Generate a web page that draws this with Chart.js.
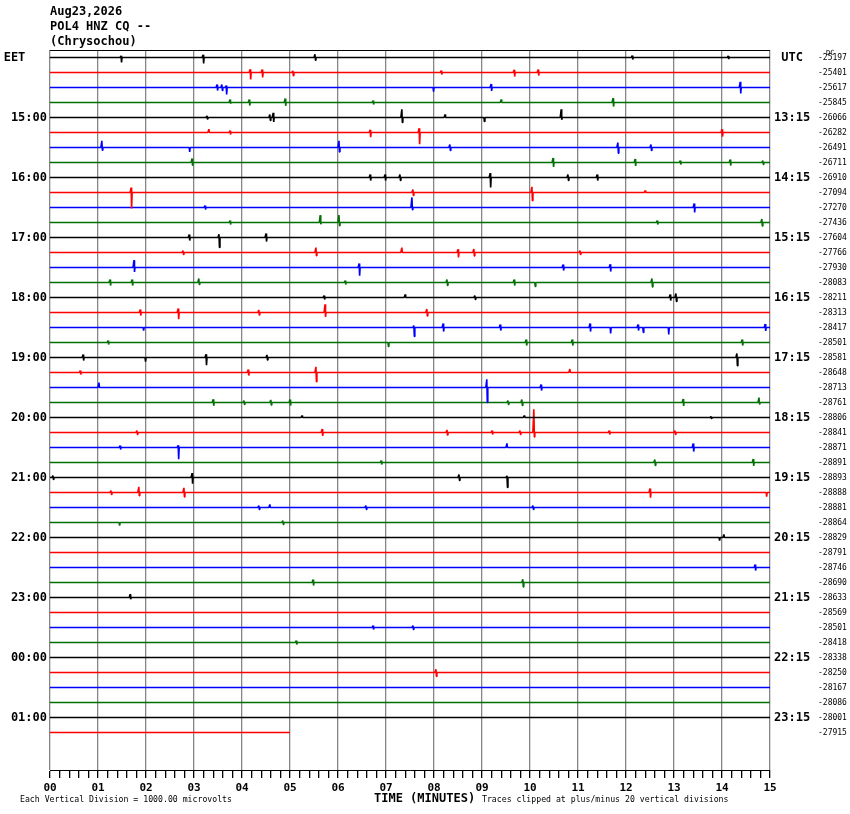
<!DOCTYPE html>
<html><head><meta charset="utf-8">
<script src="https://cdn.jsdelivr.net/npm/chart.js@4.4.1/dist/chart.umd.min.js"></script>
<style>html,body{margin:0;padding:0;background:#fff}canvas{display:block}</style>
</head><body>
<canvas id="c" width="850" height="814" style="width:850px;height:814px"></canvas>
<script>
// ---------- data ----------
const headerLines = ['Aug23,2026', 'POL4 HNZ CQ --', '(Chrysochou)'];
const minuteLabels = ['00','01','02','03','04','05','06','07','08','09','10','11','12','13','14','15'];
// one label every 4 traces (rows 0,4,...,44)
const localHourLabels = ['EET   ','15:00','16:00','17:00','18:00','19:00','20:00','21:00','22:00','23:00','00:00','01:00'];
const utcHourLabels = [' UTC','13:15','14:15','15:15','16:15','17:15','18:15','19:15','20:15','21:15','22:15','23:15'];
// DC offset of each trace
const dcOffsets = [-25197,-25401,-25617,-25845,-26066,-26282,-26491,-26711,-26910,-27094,-27270,-27436,
  -27604,-27766,-27930,-28083,-28211,-28313,-28417,-28501,-28581,-28648,-28713,-28761,
  -28806,-28841,-28871,-28891,-28893,-28888,-28881,-28864,-28829,-28791,-28746,-28690,
  -28633,-28569,-28501,-28418,-28338,-28250,-28167,-28086,-28001,-27915];
const traceColors = ['#000000', '#ff0000', '#0000ff', '#007000'];
const lastTraceEndMinute = 5.0;
// notable wiggles per trace: [minute, upward deflection, downward deflection] (in trace spacings)
const traceEvents = [
  [[1.48,0.11,0.33],[3.19,0.18,0.40],[5.52,0.22,0.18],[12.13,0.13,0.13],[14.13,0.1,0.1]],
  [[4.17,0.22,0.47],[4.42,0.2,0.33],[5.06,0.11,0.22],[8.15,0.13,0.13],[9.67,0.18,0.27],[10.17,0.2,0.2]],
  [[3.48,0.2,0.2],[3.58,0.2,0.2],[3.67,0.13,0.47],[7.98,0,0.27],[9.19,0.23,0.23],[14.38,0.38,0.4]],
  [[3.75,0.2,0.07],[4.15,0.2,0.2],[4.9,0.27,0.22],[6.73,0.13,0.13],[9.4,0.2,0],[11.73,0.29,0.27]],
  [[3.27,0.1,0.1],[4.58,0.2,0.2],[4.65,0.31,0.29],[7.33,0.55,0.33],[8.23,0.2,0],[9.04,0,0.27],[10.65,0.55,0.15]],
  [[3.31,0.22,0],[3.75,0.13,0.13],[6.67,0.18,0.31],[7.69,0.29,0.78],[14.0,0.22,0.27]],
  [[1.08,0.45,0.18],[2.9,0,0.29],[6.02,0.45,0.29],[8.33,0.2,0.2],[11.83,0.33,0.38],[12.52,0.2,0.2]],
  [[2.96,0.27,0.22],[10.48,0.3,0.3],[12.19,0.23,0.23],[13.13,0.13,0.13],[14.17,0.2,0.2],[14.85,0.13,0.13]],
  [[6.67,0.2,0.2],[6.98,0.2,0.2],[7.29,0.2,0.2],[9.17,0.29,0.67],[10.79,0.2,0.2],[11.4,0.2,0.2]],
  [[1.69,0.33,1.07],[7.56,0.2,0.2],[10.04,0.38,0.55],[12.4,0.13,0]],
  [[3.23,0.13,0.13],[7.54,0.67,0.15],[13.42,0.27,0.33]],
  [[3.75,0.13,0.13],[5.63,0.49,0.11],[6.02,0.49,0.22],[12.65,0.13,0.13],[14.83,0.23,0.23]],
  [[2.9,0.2,0.2],[3.52,0.22,0.67],[4.5,0.27,0.27]],
  [[2.77,0.13,0.13],[5.54,0.33,0.22],[7.33,0.33,0],[8.5,0.22,0.33],[8.83,0.23,0.23],[11.04,0.13,0.13]],
  [[1.75,0.49,0.29],[6.44,0.27,0.55],[10.69,0.2,0.2],[11.67,0.22,0.27]],
  [[1.25,0.2,0.2],[1.71,0.2,0.2],[3.1,0.27,0.13],[6.15,0.13,0.13],[8.27,0.2,0.2],[9.67,0.2,0.2],[10.1,0,0.27],[12.54,0.27,0.29]],
  [[5.71,0.13,0.13],[7.4,0.2,0],[8.85,0.13,0.13],[12.92,0.2,0.2],[13.04,0.27,0.27]],
  [[1.88,0.2,0.2],[2.67,0.27,0.45],[4.35,0.17,0.17],[5.73,0.55,0.29],[7.85,0.23,0.23]],
  [[1.94,0,0.2],[7.58,0.13,0.6],[8.19,0.27,0.27],[9.38,0.2,0.2],[11.25,0.27,0.27],[11.67,0,0.4],[12.25,0.2,0.2],[12.35,0,0.33],[12.88,0,0.47],[14.9,0.23,0.23]],
  [[1.21,0.13,0.13],[7.04,0,0.27],[9.92,0.2,0.2],[10.88,0.2,0.2],[14.42,0.2,0.2]],
  [[0.69,0.2,0.2],[1.98,0,0.27],[3.25,0.22,0.51],[4.52,0.17,0.17],[14.31,0.27,0.55]],
  [[0.63,0.13,0.13],[4.13,0.2,0.2],[5.54,0.38,0.62],[10.83,0.23,0]],
  [[1.02,0.33,0],[9.1,0.55,1.0],[10.23,0.2,0.2]],
  [[3.4,0.22,0.22],[4.04,0.13,0.13],[4.6,0.17,0.17],[5.0,0.2,0.2],[9.54,0.13,0.13],[9.83,0.2,0.2],[13.19,0.23,0.23],[14.77,0.33,0.1]],
  [[5.25,0.13,0],[9.88,0.13,0],[13.77,0.07,0.07]],
  [[1.81,0.13,0.13],[5.67,0.23,0.23],[8.27,0.17,0.17],[9.21,0.13,0.13],[9.79,0.13,0.13],[10.08,1.55,0.29],[11.65,0.13,0.13],[13.02,0.13,0.13]],
  [[1.46,0.13,0.13],[2.67,0.15,0.78],[9.52,0.27,0],[13.4,0.27,0.27]],
  [[6.9,0.13,0.13],[12.6,0.2,0.2],[14.65,0.23,0.23]],
  [[0.06,0.13,0.13],[2.96,0.29,0.42],[8.52,0.2,0.2],[9.52,0.11,0.67]],
  [[1.27,0.13,0.13],[1.85,0.38,0.22],[2.79,0.31,0.29],[12.5,0.27,0.35],[14.92,0,0.27]],
  [[4.35,0.13,0.13],[4.58,0.2,0],[6.58,0.13,0.13],[10.06,0.13,0.13]],
  [[1.44,0,0.2],[4.85,0.13,0.13]],
  [[13.94,0,0.2],[14.04,0.2,0]],
  [],
  [[14.69,0.2,0.2]],
  [[5.48,0.2,0.2],[9.85,0.22,0.29]],
  [[1.67,0.22,0.11]],
  [],
  [[6.73,0.13,0.13],[7.56,0.13,0.13]],
  [[5.13,0.13,0.13]],
  [],
  [[8.04,0.22,0.27]],
  [],
  [],
  [],
  []
];

// ---------- build datasets ----------
const SPIKE_W = 1 / 48; // minutes, spike half width
const datasets = traceEvents.map((evs, row) => {
  const end = row === traceEvents.length - 1 ? lastTraceEndMinute : 15;
  const pts = [{x: 0, y: row}];
  evs.slice().sort((a, b) => a[0] - b[0]).forEach(([t, up, down]) => {
    if (t > end) return;
    pts.push({x: t - SPIKE_W, y: row});
    pts.push({x: t, y: row - up});
    pts.push({x: t + SPIKE_W / 2, y: row + down});
    pts.push({x: t + SPIKE_W, y: row});
  });
  pts.push({x: end, y: row});
  return {
    data: pts,
    borderColor: traceColors[row % 4],
    borderWidth: 1.6,
    pointRadius: 0,
    showLine: true,
    tension: 0,
    borderJoinStyle: 'bevel',
    yAxisID: 'y'
  };
});

const isWhole = v => Math.abs(v - Math.round(v)) < 1e-6;
const mono = 'DejaVu Sans Mono';

const textPlugin = {
  id: 'texts',
  afterDraw(chart) {
    const ctx = chart.ctx, a = chart.chartArea;
    ctx.save();
    // top frame line
    ctx.strokeStyle = '#000'; ctx.lineWidth = 1;
    ctx.beginPath(); ctx.moveTo(a.left, a.top + 0.5); ctx.lineTo(a.right, a.top + 0.5); ctx.stroke();
    ctx.fillStyle = '#000';
    ctx.textBaseline = 'middle'; ctx.textAlign = 'left';
    ctx.font = 'bold 12px "' + mono + '"';
    headerLines.forEach((s, i) => ctx.fillText(s, 50, 12 + i * 15));
    ctx.fillText('TIME (MINUTES)', 374, 799);
    ctx.font = '8.2px "' + mono + '"';
    ctx.fillText('Each Vertical Division = 1000.00 microvolts', 20, 800);
    ctx.fillText('Traces clipped at plus/minus 20 vertical divisions', 482, 800);
    ctx.font = '7px "' + mono + '"';
    ctx.fillText('DC', 826, 53);
    ctx.restore();
  }
};

new Chart(document.getElementById('c'), {
  type: 'scatter',
  data: { datasets },
  plugins: [textPlugin],
  options: {
    responsive: false,
    animation: false,
    layout: { padding: { top: 50, left: 0, right: 0, bottom: 0 } },
    plugins: { legend: { display: false }, tooltip: { enabled: false } },
    scales: {
      x: {
        type: 'linear', position: 'bottom', min: 0, max: 15,
        afterBuildTicks(axis) {
          const t = [];
          for (let i = 0; i <= 75; i++) t.push({ value: i / 5 });
          axis.ticks = t;
        },
        afterFit(scale) { scale.height = 44; },
        ticks: {
          autoSkip: false, maxRotation: 0, padding: 4, color: '#000',
          font: { family: mono, size: 11, weight: 'bold' },
          callback: v => isWhole(v) ? minuteLabels[Math.round(v)] : ''
        },
        grid: {
          color: c => (c.tick && isWhole(c.tick.value)) ? '#858585' : 'rgba(0,0,0,0)',
          lineWidth: 1.3,
          tickColor: '#000', tickLength: 8, drawTicks: true, drawOnChartArea: true
        },
        border: { display: true, color: '#000', width: 1 }
      },
      y: {
        type: 'linear', position: 'left', min: -0.5, max: 47.5, reverse: true,
        afterBuildTicks(axis) { axis.ticks = localHourLabels.map((_, i) => ({ value: i * 4 })); },
        afterFit(scale) { scale.width = 50; },
        ticks: {
          autoSkip: false, padding: 3, color: '#000', crossAlign: 'near',
          font: { family: mono, size: 12, weight: 'bold' },
          callback: v => localHourLabels[Math.round(v / 4)]
        },
        grid: { display: false, drawTicks: false },
        border: { display: false }
      },
      yUtc: {
        type: 'linear', position: 'right', weight: 0, min: -0.5, max: 47.5, reverse: true,
        afterBuildTicks(axis) { axis.ticks = utcHourLabels.map((_, i) => ({ value: i * 4 })); },
        afterFit(scale) { scale.width = 44; },
        ticks: {
          autoSkip: false, padding: 4, color: '#000', crossAlign: 'near',
          font: { family: mono, size: 12, weight: 'bold' },
          callback: v => utcHourLabels[Math.round(v / 4)]
        },
        grid: { display: false, drawTicks: false },
        border: { display: false }
      },
      yDc: {
        type: 'linear', position: 'right', weight: 1, min: -0.5, max: 47.5, reverse: true,
        afterBuildTicks(axis) { axis.ticks = dcOffsets.map((_, i) => ({ value: i })); },
        afterFit(scale) { scale.width = 36; },
        ticks: {
          autoSkip: false, padding: 4, color: '#000', crossAlign: 'near',
          font: { family: mono, size: 8 },
          callback: v => String(dcOffsets[Math.round(v)])
        },
        grid: { display: false, drawTicks: false },
        border: { display: false }
      }
    }
  }
});
</script>
</body></html>
